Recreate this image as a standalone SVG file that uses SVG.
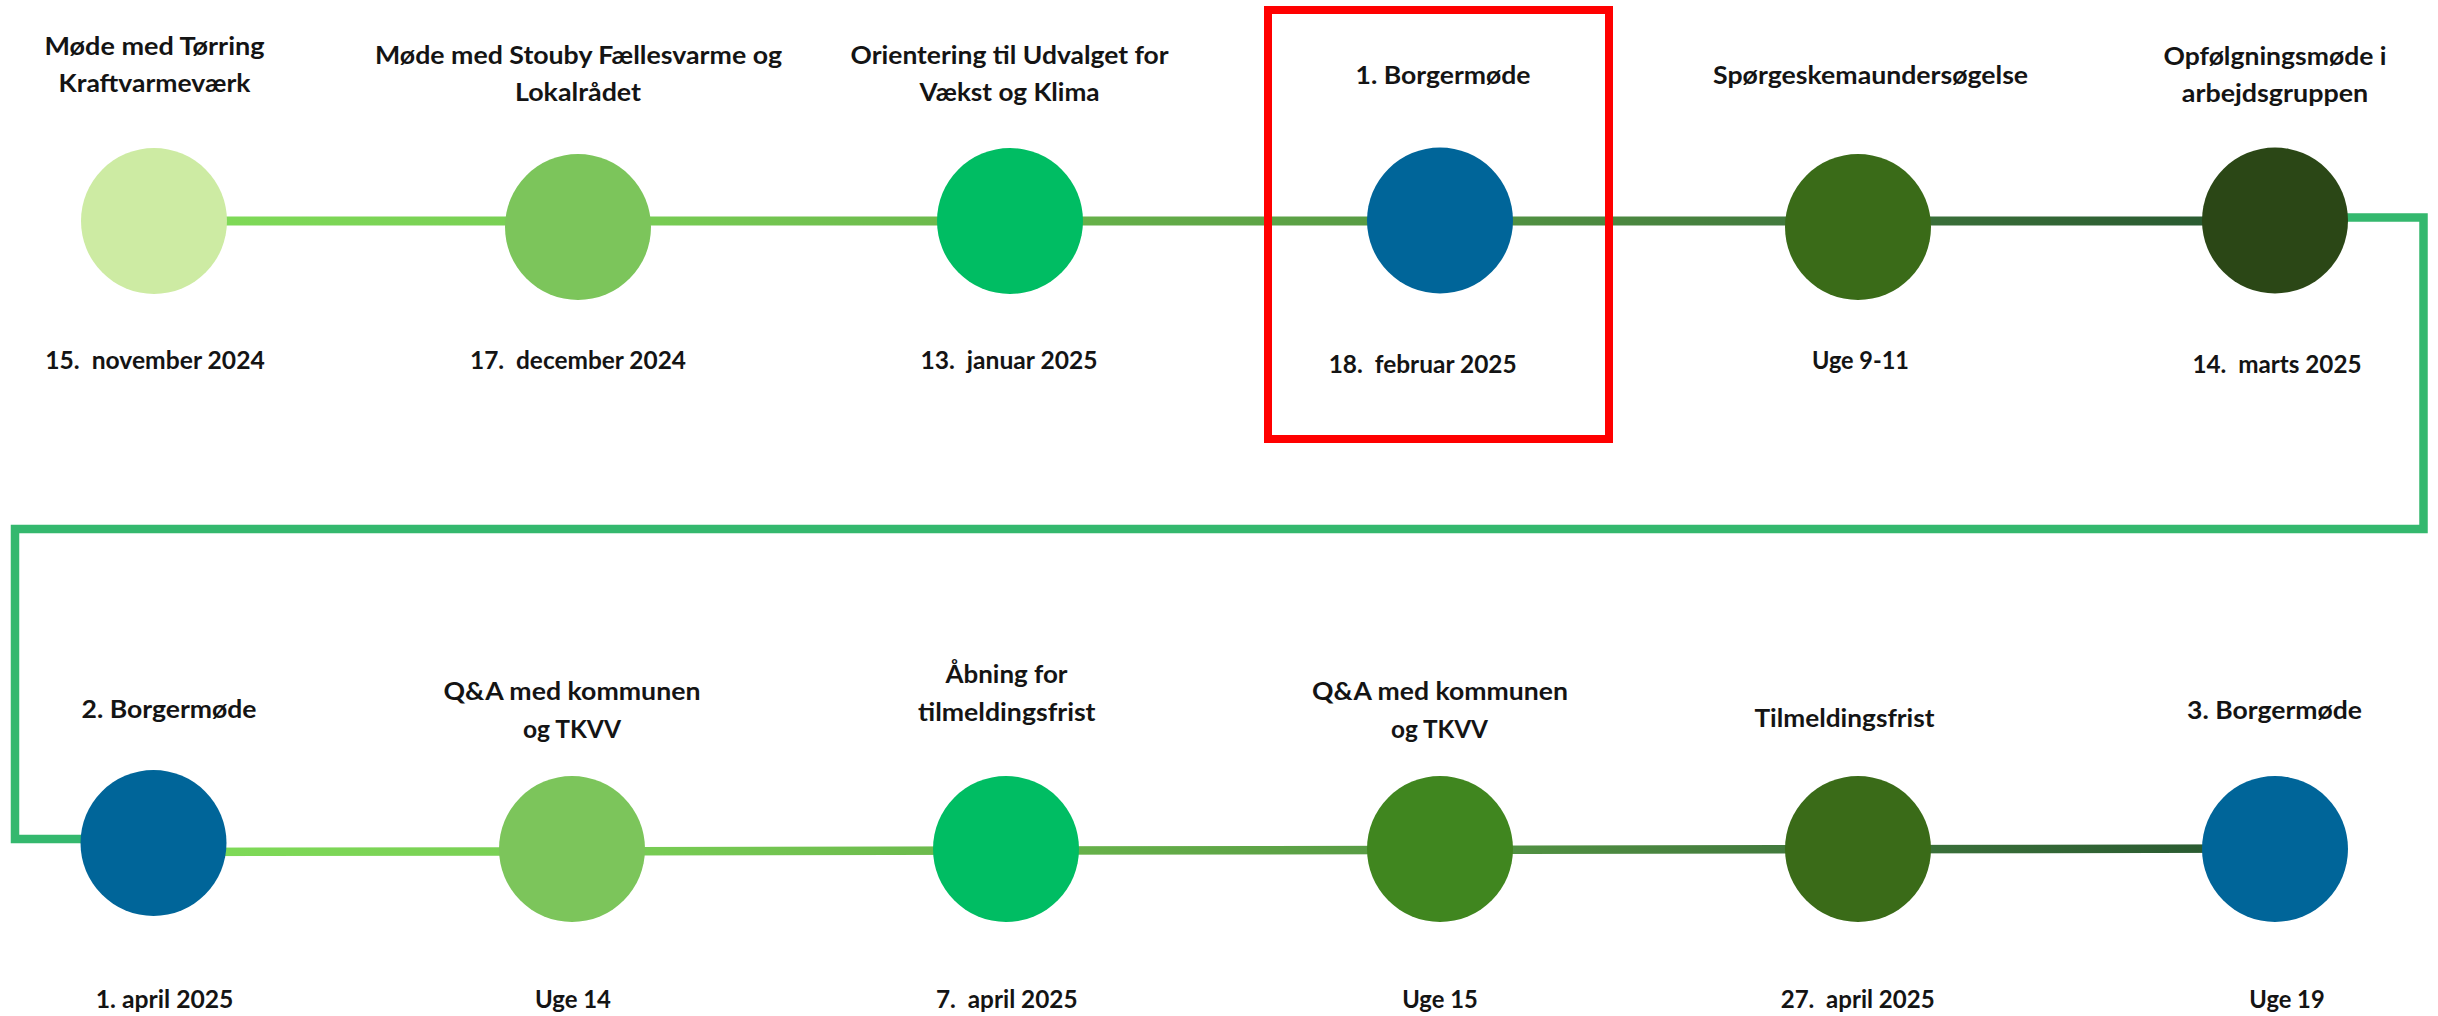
<svg xmlns="http://www.w3.org/2000/svg" width="2438" height="1016" viewBox="0 0 2438 1016">
<defs>
<linearGradient id="gTop" gradientUnits="userSpaceOnUse" x1="227" y1="0" x2="2202" y2="0">
<stop offset="0" stop-color="#7ED957"/>
<stop offset="0.22" stop-color="#77CB53"/>
<stop offset="0.44" stop-color="#66B049"/>
<stop offset="0.65" stop-color="#519142"/>
<stop offset="0.8" stop-color="#41783D"/>
<stop offset="1" stop-color="#2A5B31"/>
</linearGradient>
<linearGradient id="gBot" gradientUnits="userSpaceOnUse" x1="227" y1="0" x2="2202" y2="0">
<stop offset="0" stop-color="#7ED957"/>
<stop offset="0.22" stop-color="#77CB53"/>
<stop offset="0.44" stop-color="#66B049"/>
<stop offset="0.65" stop-color="#519142"/>
<stop offset="0.8" stop-color="#41783D"/>
<stop offset="1" stop-color="#2A5B31"/>
</linearGradient>
</defs>
<style>
text{font-family:Lato,"Open Sans","Liberation Sans",sans-serif;font-weight:700;font-size:25px;fill:#141414;text-anchor:middle;white-space:pre}
.c1{fill:#CDEBA3}.c2{fill:#7CC55B}.c3{fill:#00BD63}.cb{fill:#006599}.c5{fill:#3A6B18}.c6{fill:#2B4716}.c10{fill:#40861F}
</style>
<g id="connectors" fill="none">
<line x1="154" y1="221" x2="2275" y2="221" stroke="url(#gTop)" stroke-width="9"/>
<line x1="153" y1="852" x2="2275" y2="848.5" stroke="url(#gBot)" stroke-width="8.5"/>
<path d="M2275 217.5 H2423.5 V529 H15 V839 H153" stroke="#34B86E" stroke-width="8.5"/>
</g>
<g id="n1"><circle class="c1" cx="154" cy="221" r="73"/><text x="154.5" y="55" textLength="220" lengthAdjust="spacingAndGlyphs">Møde med Tørring</text><text x="154.5" y="92" textLength="192" lengthAdjust="spacingAndGlyphs">Kraftvarmeværk</text><text x="155" y="369" textLength="219.5" lengthAdjust="spacingAndGlyphs">15.  november 2024</text></g>
<g id="n2"><circle class="c2" cx="578" cy="227" r="73"/><text x="578.5" y="64" textLength="407" lengthAdjust="spacingAndGlyphs">Møde med Stouby Fællesvarme og</text><text x="578" y="101" textLength="126" lengthAdjust="spacingAndGlyphs">Lokalrådet</text><text x="578" y="369" textLength="216" lengthAdjust="spacingAndGlyphs">17.  december 2024</text></g>
<g id="n3"><circle class="c3" cx="1010" cy="221" r="73"/><text x="1009.6" y="64" textLength="318" lengthAdjust="spacingAndGlyphs">Orientering til Udvalget for</text><text x="1009.6" y="101" textLength="180" lengthAdjust="spacingAndGlyphs">Vækst og Klima</text><text x="1009" y="369" textLength="177" lengthAdjust="spacingAndGlyphs">13.  januar 2025</text></g>
<g id="n4"><circle class="cb" cx="1440" cy="220.5" r="73"/><text x="1443" y="84" textLength="175" lengthAdjust="spacingAndGlyphs">1. Borgermøde</text><text x="1422.7" y="372.5" textLength="188" lengthAdjust="spacingAndGlyphs">18.  februar 2025</text><rect x="1268" y="10" width="341" height="429" fill="none" stroke="#FF0000" stroke-width="8"/></g>
<g id="n5"><circle class="c5" cx="1858" cy="227" r="73"/><text x="1870.6" y="84" textLength="315" lengthAdjust="spacingAndGlyphs">Spørgeskemaundersøgelse</text><text x="1860.5" y="369" textLength="97" lengthAdjust="spacingAndGlyphs">Uge 9-11</text></g>
<g id="n6"><circle class="c6" cx="2275" cy="220.5" r="73"/><text x="2275" y="65" textLength="223" lengthAdjust="spacingAndGlyphs">Opfølgningsmøde i</text><text x="2275" y="101.5" textLength="186.5" lengthAdjust="spacingAndGlyphs">arbejdsgruppen</text><text x="2277" y="372.5" textLength="169" lengthAdjust="spacingAndGlyphs">14.  marts 2025</text></g>
<g id="n7"><circle class="cb" cx="153.5" cy="843" r="73"/><text x="169" y="718" textLength="175" lengthAdjust="spacingAndGlyphs">2. Borgermøde</text><text x="164.6" y="1007.5" textLength="137.7" lengthAdjust="spacingAndGlyphs">1. april 2025</text></g>
<g id="n8"><circle class="c2" cx="572" cy="849" r="73"/><text x="572" y="700" textLength="257" lengthAdjust="spacingAndGlyphs">Q&amp;A med kommunen</text><text x="572" y="737.7" textLength="98" lengthAdjust="spacingAndGlyphs">og TKVV</text><text x="573" y="1007.5" textLength="76" lengthAdjust="spacingAndGlyphs">Uge 14</text></g>
<g id="n9"><circle class="c3" cx="1006" cy="849" r="73"/><text x="1006.5" y="683.3" textLength="122" lengthAdjust="spacingAndGlyphs">Åbning for</text><text x="1006.8" y="720.7" textLength="177.5" lengthAdjust="spacingAndGlyphs">tilmeldingsfrist</text><text x="1006.8" y="1007.5" textLength="141.6" lengthAdjust="spacingAndGlyphs">7.  april 2025</text></g>
<g id="n10"><circle class="c10" cx="1440" cy="849" r="73"/><text x="1440" y="700" textLength="256" lengthAdjust="spacingAndGlyphs">Q&amp;A med kommunen</text><text x="1439.5" y="737.7" textLength="97" lengthAdjust="spacingAndGlyphs">og TKVV</text><text x="1440" y="1007.5" textLength="75.4" lengthAdjust="spacingAndGlyphs">Uge 15</text></g>
<g id="n11"><circle class="c5" cx="1858" cy="849" r="73"/><text x="1844.5" y="726.7" textLength="180" lengthAdjust="spacingAndGlyphs">Tilmeldingsfrist</text><text x="1857.7" y="1007.5" textLength="154" lengthAdjust="spacingAndGlyphs">27.  april 2025</text></g>
<g id="n12"><circle class="cb" cx="2275" cy="849" r="73"/><text x="2274.5" y="719.3" textLength="175" lengthAdjust="spacingAndGlyphs">3. Borgermøde</text><text x="2287" y="1007.5" textLength="75.3" lengthAdjust="spacingAndGlyphs">Uge 19</text></g>
</svg>
